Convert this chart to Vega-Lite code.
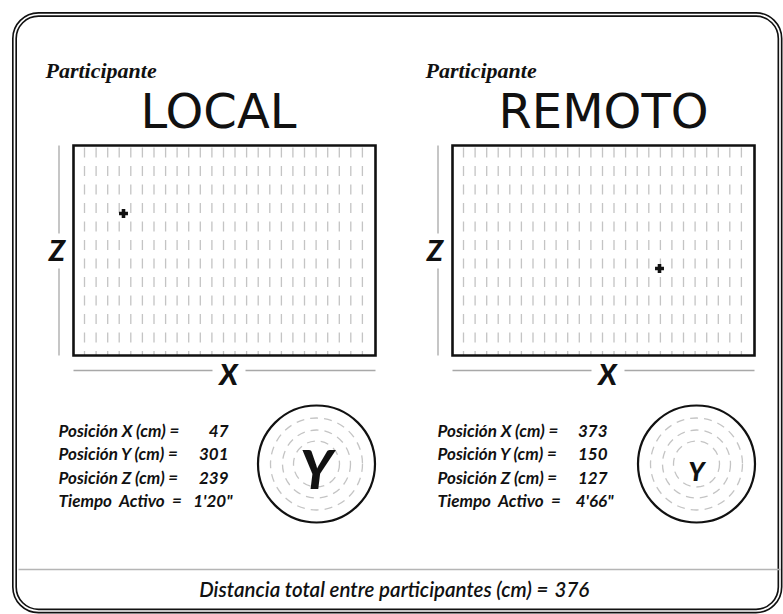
{
  "$schema": "https://vega.github.io/schema/vega-lite/v6.json",
  "width": 783,
  "height": 614,
  "autosize": {"type": "fit", "contains": "padding"},
  "padding": {"left": 11.5, "top": 11.5, "right": 0, "bottom": 0},
  "background": "white",
  "config": {"view": {"stroke": null}},
  "datasets": {
    "participantes": [
      {"participante": "LOCAL", "posX": 47, "posY": 301, "posZ": 239, "tiempo": "1'20\"", "planoX": 50, "planoZ": 142},
      {"participante": "REMOTO", "posX": 373, "posY": 150, "posZ": 127, "tiempo": "4'66\"", "planoX": 207, "planoZ": 87}
    ],
    "resumen": [{"distancia": 376}],
    "grid": [
      {"gx": 11.0}, {"gx": 22.6}, {"gx": 34.2}, {"gx": 45.7}, {"gx": 57.3}, {"gx": 68.9}, {"gx": 80.5}, {"gx": 92.1}, {"gx": 103.6}, {"gx": 115.2}, {"gx": 126.8}, {"gx": 138.4}, {"gx": 150.0}, {"gx": 161.5}, {"gx": 173.1}, {"gx": 184.7}, {"gx": 196.3}, {"gx": 207.9}, {"gx": 219.4}, {"gx": 231.0}, {"gx": 242.6}, {"gx": 254.2}, {"gx": 265.8}, {"gx": 277.3}, {"gx": 288.9}
    ]
  },
  "resolve": {"scale": {"x": "independent", "y": "independent", "size": "independent"}},
  "layer": [
    {
      "data": {"values": [{}]},
      "mark": {"type": "rect", "fillOpacity": 0, "stroke": "#111", "strokeWidth": 5, "cornerRadius": 24},
      "encoding": {}
    },
    {
      "data": {"values": [{}]},
      "mark": {"type": "rect", "fillOpacity": 0, "stroke": "white", "strokeWidth": 1.7, "cornerRadius": 24},
      "encoding": {}
    },
    {
      "data": {"name": "participantes"},
      "transform": [{"filter": "datum.participante === 'LOCAL'"}],
      "layer": [
        {
          "data": {"name": "grid"},
          "mark": {"type": "rule", "color": "#c4c4c4", "strokeWidth": 1.3, "strokeDash": [10, 8.5]},
          "encoding": {
            "x": {"field": "gx", "type": "quantitative", "scale": {"domain": [0, 302], "range": [59, 361], "nice": false, "zero": false}, "axis": null},
            "y": {"datum": 208, "type": "quantitative", "scale": {"domain": [0, 210], "range": [341, 131], "nice": false, "zero": false}, "axis": null},
            "y2": {"datum": 0}
          }
        },
        {
          "mark": {"type": "rect", "fillOpacity": 0, "stroke": "#111", "strokeWidth": 2.6},
          "encoding": {
            "x": {"datum": 0, "type": "quantitative", "scale": {"domain": [0, 302], "range": [59, 361], "nice": false, "zero": false}, "axis": null},
            "x2": {"datum": 302},
            "y": {"datum": 0, "type": "quantitative", "scale": {"domain": [0, 210], "range": [341, 131], "nice": false, "zero": false}, "axis": null},
            "y2": {"datum": 210}
          }
        },
        {
          "mark": {"type": "point", "shape": "cross", "filled": true, "color": "#111", "size": 80, "opacity": 1},
          "encoding": {
            "x": {"field": "planoX", "type": "quantitative", "scale": {"domain": [0, 302], "range": [59, 361], "nice": false, "zero": false}, "axis": null},
            "y": {"field": "planoZ", "type": "quantitative", "scale": {"domain": [0, 210], "range": [341, 131], "nice": false, "zero": false}, "axis": null}
          }
        },
        {
          "mark": {"type": "rule", "color": "#a8a8a8", "strokeWidth": 1.3},
          "encoding": {
            "x": {"datum": -14.5, "type": "quantitative", "scale": {"domain": [0, 302], "range": [59, 361], "nice": false, "zero": false}, "axis": null},
            "y": {"datum": 0, "type": "quantitative", "scale": {"domain": [0, 210], "range": [341, 131], "nice": false, "zero": false}, "axis": null},
            "y2": {"datum": 87}
          }
        },
        {
          "mark": {"type": "rule", "color": "#a8a8a8", "strokeWidth": 1.3},
          "encoding": {
            "x": {"datum": -14.5, "type": "quantitative", "scale": {"domain": [0, 302], "range": [59, 361], "nice": false, "zero": false}, "axis": null},
            "y": {"datum": 122, "type": "quantitative", "scale": {"domain": [0, 210], "range": [341, 131], "nice": false, "zero": false}, "axis": null},
            "y2": {"datum": 210}
          }
        },
        {
          "mark": {"type": "rule", "color": "#a8a8a8", "strokeWidth": 1.3},
          "encoding": {
            "x": {"datum": 0, "type": "quantitative", "scale": {"domain": [0, 302], "range": [59, 361], "nice": false, "zero": false}, "axis": null},
            "x2": {"datum": 139},
            "y": {"datum": -15, "type": "quantitative", "scale": {"domain": [0, 210], "range": [341, 131], "nice": false, "zero": false}, "axis": null}
          }
        },
        {
          "mark": {"type": "rule", "color": "#a8a8a8", "strokeWidth": 1.3},
          "encoding": {
            "x": {"datum": 172, "type": "quantitative", "scale": {"domain": [0, 302], "range": [59, 361], "nice": false, "zero": false}, "axis": null},
            "x2": {"datum": 302},
            "y": {"datum": -15, "type": "quantitative", "scale": {"domain": [0, 210], "range": [341, 131], "nice": false, "zero": false}, "axis": null}
          }
        },
        {
          "mark": {"type": "text", "text": "Z", "font": "Lato", "fontStyle": "italic", "fontWeight": 900, "fontSize": 29, "align": "center", "baseline": "middle", "color": "#111"},
          "encoding": {
            "x": {"datum": -16.5, "type": "quantitative", "scale": {"domain": [0, 302], "range": [59, 361], "nice": false, "zero": false}, "axis": null},
            "y": {"datum": 104, "type": "quantitative", "scale": {"domain": [0, 210], "range": [341, 131], "nice": false, "zero": false}, "axis": null}
          }
        },
        {
          "mark": {"type": "text", "text": "X", "font": "Lato", "fontStyle": "italic", "fontWeight": 900, "fontSize": 29, "align": "center", "baseline": "middle", "color": "#111"},
          "encoding": {
            "x": {"datum": 155, "type": "quantitative", "scale": {"domain": [0, 302], "range": [59, 361], "nice": false, "zero": false}, "axis": null},
            "y": {"datum": -20, "type": "quantitative", "scale": {"domain": [0, 210], "range": [341, 131], "nice": false, "zero": false}, "axis": null}
          }
        },
        {
          "mark": {"type": "text", "text": "Participante", "font": "Liberation Serif", "fontStyle": "italic", "fontWeight": "bold", "fontSize": 22, "align": "left", "baseline": "alphabetic", "color": "#111"},
          "encoding": {
            "x": {"datum": -28, "type": "quantitative", "scale": {"domain": [0, 302], "range": [59, 361], "nice": false, "zero": false}, "axis": null},
            "y": {"datum": 278, "type": "quantitative", "scale": {"domain": [0, 210], "range": [341, 131], "nice": false, "zero": false}, "axis": null}
          }
        },
        {
          "mark": {"type": "text", "font": "DejaVu Sans", "fontSize": 48, "align": "center", "baseline": "alphabetic", "color": "#111"},
          "encoding": {
            "text": {"field": "participante", "type": "nominal"},
            "x": {"datum": 145, "type": "quantitative", "scale": {"domain": [0, 302], "range": [59, 361], "nice": false, "zero": false}, "axis": null},
            "y": {"datum": 228, "type": "quantitative", "scale": {"domain": [0, 210], "range": [341, 131], "nice": false, "zero": false}, "axis": null}
          }
        },
        {
          "mark": {"type": "text", "text": ["Posición X (cm) =", "Posición Y (cm) =", "Posición Z (cm) =", "Tiempo\u00a0 Activo\u00a0 ="], "lineHeight": 23.5, "font": "Lato", "fontStyle": "italic", "fontWeight": "bold", "fontSize": 17, "align": "left", "baseline": "alphabetic", "color": "#111"},
          "encoding": {
            "x": {"datum": -15, "type": "quantitative", "scale": {"domain": [0, 302], "range": [59, 361], "nice": false, "zero": false}, "axis": null},
            "y": {"datum": -81, "type": "quantitative", "scale": {"domain": [0, 210], "range": [341, 131], "nice": false, "zero": false}, "axis": null}
          }
        },
        {
          "mark": {"type": "text", "font": "Lato", "fontStyle": "italic", "fontWeight": "bold", "fontSize": 17, "align": "right", "baseline": "alphabetic", "color": "#111"},
          "encoding": {
            "text": {"field": "posX", "type": "quantitative"},
            "x": {"datum": 155, "type": "quantitative", "scale": {"domain": [0, 302], "range": [59, 361], "nice": false, "zero": false}, "axis": null},
            "y": {"datum": -81, "type": "quantitative", "scale": {"domain": [0, 210], "range": [341, 131], "nice": false, "zero": false}, "axis": null}
          }
        },
        {
          "mark": {"type": "text", "font": "Lato", "fontStyle": "italic", "fontWeight": "bold", "fontSize": 17, "align": "right", "baseline": "alphabetic", "color": "#111"},
          "encoding": {
            "text": {"field": "posY", "type": "quantitative"},
            "x": {"datum": 155, "type": "quantitative", "scale": {"domain": [0, 302], "range": [59, 361], "nice": false, "zero": false}, "axis": null},
            "y": {"datum": -104.5, "type": "quantitative", "scale": {"domain": [0, 210], "range": [341, 131], "nice": false, "zero": false}, "axis": null}
          }
        },
        {
          "mark": {"type": "text", "font": "Lato", "fontStyle": "italic", "fontWeight": "bold", "fontSize": 17, "align": "right", "baseline": "alphabetic", "color": "#111"},
          "encoding": {
            "text": {"field": "posZ", "type": "quantitative"},
            "x": {"datum": 155, "type": "quantitative", "scale": {"domain": [0, 302], "range": [59, 361], "nice": false, "zero": false}, "axis": null},
            "y": {"datum": -128, "type": "quantitative", "scale": {"domain": [0, 210], "range": [341, 131], "nice": false, "zero": false}, "axis": null}
          }
        },
        {
          "mark": {"type": "text", "font": "Lato", "fontStyle": "italic", "fontWeight": "bold", "fontSize": 17, "align": "right", "baseline": "alphabetic", "color": "#111"},
          "encoding": {
            "text": {"field": "tiempo", "type": "nominal"},
            "x": {"datum": 159, "type": "quantitative", "scale": {"domain": [0, 302], "range": [59, 361], "nice": false, "zero": false}, "axis": null},
            "y": {"datum": -151.5, "type": "quantitative", "scale": {"domain": [0, 210], "range": [341, 131], "nice": false, "zero": false}, "axis": null}
          }
        },
        {
          "mark": {"type": "point", "shape": "circle", "filled": false, "color": "#111", "strokeWidth": 2.2, "size": 13689, "opacity": 1},
          "encoding": {
            "x": {"datum": 243, "type": "quantitative", "scale": {"domain": [0, 302], "range": [59, 361], "nice": false, "zero": false}, "axis": null},
            "y": {"datum": -108.5, "type": "quantitative", "scale": {"domain": [0, 210], "range": [341, 131], "nice": false, "zero": false}, "axis": null}
          }
        },
        {
          "mark": {"type": "point", "shape": "circle", "filled": false, "color": "#c4c4c4", "strokeWidth": 1.3, "strokeDash": [8, 6], "size": 8464, "opacity": 1},
          "encoding": {
            "x": {"datum": 243, "type": "quantitative", "scale": {"domain": [0, 302], "range": [59, 361], "nice": false, "zero": false}, "axis": null},
            "y": {"datum": -108.5, "type": "quantitative", "scale": {"domain": [0, 210], "range": [341, 131], "nice": false, "zero": false}, "axis": null}
          }
        },
        {
          "mark": {"type": "point", "shape": "circle", "filled": false, "color": "#c4c4c4", "strokeWidth": 1.3, "strokeDash": [8, 6], "size": 4624, "opacity": 1},
          "encoding": {
            "x": {"datum": 243, "type": "quantitative", "scale": {"domain": [0, 302], "range": [59, 361], "nice": false, "zero": false}, "axis": null},
            "y": {"datum": -108.5, "type": "quantitative", "scale": {"domain": [0, 210], "range": [341, 131], "nice": false, "zero": false}, "axis": null}
          }
        },
        {
          "mark": {"type": "point", "shape": "circle", "filled": false, "color": "#c4c4c4", "strokeWidth": 1.3, "strokeDash": [8, 6], "size": 2116, "opacity": 1},
          "encoding": {
            "x": {"datum": 243, "type": "quantitative", "scale": {"domain": [0, 302], "range": [59, 361], "nice": false, "zero": false}, "axis": null},
            "y": {"datum": -108.5, "type": "quantitative", "scale": {"domain": [0, 210], "range": [341, 131], "nice": false, "zero": false}, "axis": null}
          }
        },
        {
          "mark": {"type": "text", "text": "Y", "font": "Lato", "fontStyle": "italic", "fontWeight": 900, "align": "center", "baseline": "middle", "color": "#111"},
          "encoding": {
            "size": {"field": "posY", "type": "quantitative", "scale": {"domain": [0, 300], "range": [0, 53]}, "legend": null},
            "x": {"datum": 243, "type": "quantitative", "scale": {"domain": [0, 302], "range": [59, 361], "nice": false, "zero": false}, "axis": null},
            "y": {"datum": -117, "type": "quantitative", "scale": {"domain": [0, 210], "range": [341, 131], "nice": false, "zero": false}, "axis": null}
          }
        },
        {
          "mark": {"type": "rule", "color": "#b5b5b5", "strokeWidth": 1.5},
          "encoding": {
            "x": {"datum": -55, "type": "quantitative", "scale": {"domain": [0, 302], "range": [59, 361], "nice": false, "zero": false}, "axis": null},
            "x2": {"datum": 707},
            "y": {"datum": -214, "type": "quantitative", "scale": {"domain": [0, 210], "range": [341, 131], "nice": false, "zero": false}, "axis": null}
          }
        },
        {
          "data": {"name": "resumen"},
          "mark": {"type": "text", "text": "Distancia total entre participantes (cm) =", "font": "Lato", "fontStyle": "italic", "fontWeight": 600, "fontSize": 20.5, "align": "right", "baseline": "alphabetic", "color": "#111"},
          "encoding": {
            "x": {"datum": 475, "type": "quantitative", "scale": {"domain": [0, 302], "range": [59, 361], "nice": false, "zero": false}, "axis": null},
            "y": {"datum": -241, "type": "quantitative", "scale": {"domain": [0, 210], "range": [341, 131], "nice": false, "zero": false}, "axis": null}
          }
        },
        {
          "data": {"name": "resumen"},
          "mark": {"type": "text", "font": "Lato", "fontStyle": "italic", "fontWeight": 600, "fontSize": 20.5, "align": "left", "baseline": "alphabetic", "dx": 6, "color": "#111"},
          "encoding": {
            "text": {"field": "distancia", "type": "quantitative"},
            "x": {"datum": 475, "type": "quantitative", "scale": {"domain": [0, 302], "range": [59, 361], "nice": false, "zero": false}, "axis": null},
            "y": {"datum": -241, "type": "quantitative", "scale": {"domain": [0, 210], "range": [341, 131], "nice": false, "zero": false}, "axis": null}
          }
        }
      ]
    },
    {
      "data": {"name": "participantes"},
      "transform": [{"filter": "datum.participante === 'REMOTO'"}],
      "layer": [
        {
          "data": {"name": "grid"},
          "mark": {"type": "rule", "color": "#c4c4c4", "strokeWidth": 1.3, "strokeDash": [10, 8.5]},
          "encoding": {
            "x": {"field": "gx", "type": "quantitative", "scale": {"domain": [0, 302], "range": [438, 740], "nice": false, "zero": false}, "axis": null},
            "y": {"datum": 208, "type": "quantitative", "scale": {"domain": [0, 210], "range": [341, 131], "nice": false, "zero": false}, "axis": null},
            "y2": {"datum": 0}
          }
        },
        {
          "mark": {"type": "rect", "fillOpacity": 0, "stroke": "#111", "strokeWidth": 2.6},
          "encoding": {
            "x": {"datum": 0, "type": "quantitative", "scale": {"domain": [0, 302], "range": [438, 740], "nice": false, "zero": false}, "axis": null},
            "x2": {"datum": 302},
            "y": {"datum": 0, "type": "quantitative", "scale": {"domain": [0, 210], "range": [341, 131], "nice": false, "zero": false}, "axis": null},
            "y2": {"datum": 210}
          }
        },
        {
          "mark": {"type": "point", "shape": "cross", "filled": true, "color": "#111", "size": 80, "opacity": 1},
          "encoding": {
            "x": {"field": "planoX", "type": "quantitative", "scale": {"domain": [0, 302], "range": [438, 740], "nice": false, "zero": false}, "axis": null},
            "y": {"field": "planoZ", "type": "quantitative", "scale": {"domain": [0, 210], "range": [341, 131], "nice": false, "zero": false}, "axis": null}
          }
        },
        {
          "mark": {"type": "rule", "color": "#a8a8a8", "strokeWidth": 1.3},
          "encoding": {
            "x": {"datum": -14.5, "type": "quantitative", "scale": {"domain": [0, 302], "range": [438, 740], "nice": false, "zero": false}, "axis": null},
            "y": {"datum": 0, "type": "quantitative", "scale": {"domain": [0, 210], "range": [341, 131], "nice": false, "zero": false}, "axis": null},
            "y2": {"datum": 87}
          }
        },
        {
          "mark": {"type": "rule", "color": "#a8a8a8", "strokeWidth": 1.3},
          "encoding": {
            "x": {"datum": -14.5, "type": "quantitative", "scale": {"domain": [0, 302], "range": [438, 740], "nice": false, "zero": false}, "axis": null},
            "y": {"datum": 122, "type": "quantitative", "scale": {"domain": [0, 210], "range": [341, 131], "nice": false, "zero": false}, "axis": null},
            "y2": {"datum": 210}
          }
        },
        {
          "mark": {"type": "rule", "color": "#a8a8a8", "strokeWidth": 1.3},
          "encoding": {
            "x": {"datum": 0, "type": "quantitative", "scale": {"domain": [0, 302], "range": [438, 740], "nice": false, "zero": false}, "axis": null},
            "x2": {"datum": 139},
            "y": {"datum": -15, "type": "quantitative", "scale": {"domain": [0, 210], "range": [341, 131], "nice": false, "zero": false}, "axis": null}
          }
        },
        {
          "mark": {"type": "rule", "color": "#a8a8a8", "strokeWidth": 1.3},
          "encoding": {
            "x": {"datum": 172, "type": "quantitative", "scale": {"domain": [0, 302], "range": [438, 740], "nice": false, "zero": false}, "axis": null},
            "x2": {"datum": 302},
            "y": {"datum": -15, "type": "quantitative", "scale": {"domain": [0, 210], "range": [341, 131], "nice": false, "zero": false}, "axis": null}
          }
        },
        {
          "mark": {"type": "text", "text": "Z", "font": "Lato", "fontStyle": "italic", "fontWeight": 900, "fontSize": 29, "align": "center", "baseline": "middle", "color": "#111"},
          "encoding": {
            "x": {"datum": -17.5, "type": "quantitative", "scale": {"domain": [0, 302], "range": [438, 740], "nice": false, "zero": false}, "axis": null},
            "y": {"datum": 104, "type": "quantitative", "scale": {"domain": [0, 210], "range": [341, 131], "nice": false, "zero": false}, "axis": null}
          }
        },
        {
          "mark": {"type": "text", "text": "X", "font": "Lato", "fontStyle": "italic", "fontWeight": 900, "fontSize": 29, "align": "center", "baseline": "middle", "color": "#111"},
          "encoding": {
            "x": {"datum": 155, "type": "quantitative", "scale": {"domain": [0, 302], "range": [438, 740], "nice": false, "zero": false}, "axis": null},
            "y": {"datum": -20, "type": "quantitative", "scale": {"domain": [0, 210], "range": [341, 131], "nice": false, "zero": false}, "axis": null}
          }
        },
        {
          "mark": {"type": "text", "text": "Participante", "font": "Liberation Serif", "fontStyle": "italic", "fontWeight": "bold", "fontSize": 22, "align": "left", "baseline": "alphabetic", "color": "#111"},
          "encoding": {
            "x": {"datum": -27, "type": "quantitative", "scale": {"domain": [0, 302], "range": [438, 740], "nice": false, "zero": false}, "axis": null},
            "y": {"datum": 278, "type": "quantitative", "scale": {"domain": [0, 210], "range": [341, 131], "nice": false, "zero": false}, "axis": null}
          }
        },
        {
          "mark": {"type": "text", "font": "DejaVu Sans", "fontSize": 48, "align": "center", "baseline": "alphabetic", "color": "#111"},
          "encoding": {
            "text": {"field": "participante", "type": "nominal"},
            "x": {"datum": 151, "type": "quantitative", "scale": {"domain": [0, 302], "range": [438, 740], "nice": false, "zero": false}, "axis": null},
            "y": {"datum": 228, "type": "quantitative", "scale": {"domain": [0, 210], "range": [341, 131], "nice": false, "zero": false}, "axis": null}
          }
        },
        {
          "mark": {"type": "text", "text": ["Posición X (cm) =", "Posición Y (cm) =", "Posición Z (cm) =", "Tiempo\u00a0 Activo\u00a0 ="], "lineHeight": 23.5, "font": "Lato", "fontStyle": "italic", "fontWeight": "bold", "fontSize": 17, "align": "left", "baseline": "alphabetic", "color": "#111"},
          "encoding": {
            "x": {"datum": -15, "type": "quantitative", "scale": {"domain": [0, 302], "range": [438, 740], "nice": false, "zero": false}, "axis": null},
            "y": {"datum": -81, "type": "quantitative", "scale": {"domain": [0, 210], "range": [341, 131], "nice": false, "zero": false}, "axis": null}
          }
        },
        {
          "mark": {"type": "text", "font": "Lato", "fontStyle": "italic", "fontWeight": "bold", "fontSize": 17, "align": "right", "baseline": "alphabetic", "color": "#111"},
          "encoding": {
            "text": {"field": "posX", "type": "quantitative"},
            "x": {"datum": 155, "type": "quantitative", "scale": {"domain": [0, 302], "range": [438, 740], "nice": false, "zero": false}, "axis": null},
            "y": {"datum": -81, "type": "quantitative", "scale": {"domain": [0, 210], "range": [341, 131], "nice": false, "zero": false}, "axis": null}
          }
        },
        {
          "mark": {"type": "text", "font": "Lato", "fontStyle": "italic", "fontWeight": "bold", "fontSize": 17, "align": "right", "baseline": "alphabetic", "color": "#111"},
          "encoding": {
            "text": {"field": "posY", "type": "quantitative"},
            "x": {"datum": 155, "type": "quantitative", "scale": {"domain": [0, 302], "range": [438, 740], "nice": false, "zero": false}, "axis": null},
            "y": {"datum": -104.5, "type": "quantitative", "scale": {"domain": [0, 210], "range": [341, 131], "nice": false, "zero": false}, "axis": null}
          }
        },
        {
          "mark": {"type": "text", "font": "Lato", "fontStyle": "italic", "fontWeight": "bold", "fontSize": 17, "align": "right", "baseline": "alphabetic", "color": "#111"},
          "encoding": {
            "text": {"field": "posZ", "type": "quantitative"},
            "x": {"datum": 155, "type": "quantitative", "scale": {"domain": [0, 302], "range": [438, 740], "nice": false, "zero": false}, "axis": null},
            "y": {"datum": -128, "type": "quantitative", "scale": {"domain": [0, 210], "range": [341, 131], "nice": false, "zero": false}, "axis": null}
          }
        },
        {
          "mark": {"type": "text", "font": "Lato", "fontStyle": "italic", "fontWeight": "bold", "fontSize": 17, "align": "right", "baseline": "alphabetic", "color": "#111"},
          "encoding": {
            "text": {"field": "tiempo", "type": "nominal"},
            "x": {"datum": 161, "type": "quantitative", "scale": {"domain": [0, 302], "range": [438, 740], "nice": false, "zero": false}, "axis": null},
            "y": {"datum": -151.5, "type": "quantitative", "scale": {"domain": [0, 210], "range": [341, 131], "nice": false, "zero": false}, "axis": null}
          }
        },
        {
          "mark": {"type": "point", "shape": "circle", "filled": false, "color": "#111", "strokeWidth": 2.2, "size": 13689, "opacity": 1},
          "encoding": {
            "x": {"datum": 244, "type": "quantitative", "scale": {"domain": [0, 302], "range": [438, 740], "nice": false, "zero": false}, "axis": null},
            "y": {"datum": -108.5, "type": "quantitative", "scale": {"domain": [0, 210], "range": [341, 131], "nice": false, "zero": false}, "axis": null}
          }
        },
        {
          "mark": {"type": "point", "shape": "circle", "filled": false, "color": "#c4c4c4", "strokeWidth": 1.3, "strokeDash": [8, 6], "size": 8464, "opacity": 1},
          "encoding": {
            "x": {"datum": 244, "type": "quantitative", "scale": {"domain": [0, 302], "range": [438, 740], "nice": false, "zero": false}, "axis": null},
            "y": {"datum": -108.5, "type": "quantitative", "scale": {"domain": [0, 210], "range": [341, 131], "nice": false, "zero": false}, "axis": null}
          }
        },
        {
          "mark": {"type": "point", "shape": "circle", "filled": false, "color": "#c4c4c4", "strokeWidth": 1.3, "strokeDash": [8, 6], "size": 4624, "opacity": 1},
          "encoding": {
            "x": {"datum": 244, "type": "quantitative", "scale": {"domain": [0, 302], "range": [438, 740], "nice": false, "zero": false}, "axis": null},
            "y": {"datum": -108.5, "type": "quantitative", "scale": {"domain": [0, 210], "range": [341, 131], "nice": false, "zero": false}, "axis": null}
          }
        },
        {
          "mark": {"type": "point", "shape": "circle", "filled": false, "color": "#c4c4c4", "strokeWidth": 1.3, "strokeDash": [8, 6], "size": 2116, "opacity": 1},
          "encoding": {
            "x": {"datum": 244, "type": "quantitative", "scale": {"domain": [0, 302], "range": [438, 740], "nice": false, "zero": false}, "axis": null},
            "y": {"datum": -108.5, "type": "quantitative", "scale": {"domain": [0, 210], "range": [341, 131], "nice": false, "zero": false}, "axis": null}
          }
        },
        {
          "mark": {"type": "text", "text": "Y", "font": "Lato", "fontStyle": "italic", "fontWeight": 900, "align": "center", "baseline": "middle", "color": "#111"},
          "encoding": {
            "size": {"field": "posY", "type": "quantitative", "scale": {"domain": [0, 300], "range": [0, 53]}, "legend": null},
            "x": {"datum": 244, "type": "quantitative", "scale": {"domain": [0, 302], "range": [438, 740], "nice": false, "zero": false}, "axis": null},
            "y": {"datum": -117, "type": "quantitative", "scale": {"domain": [0, 210], "range": [341, 131], "nice": false, "zero": false}, "axis": null}
          }
        }
      ]
    }
  ]
}
